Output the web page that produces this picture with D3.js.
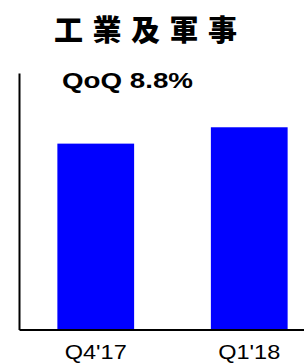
<!DOCTYPE html>
<meta charset="UTF-8">
<script src="https://d3js.org/d3.v7.min.js"></script>
<style>
  body { margin: 0; background: #fff; }
</style>
<svg id="chart" width="304" height="363"></svg>
<script>
// data
var quarters = ["Q4'17", "Q1'18"];
var revenue = [100, 108.8];   // index, Q4'17 = 100
var titleText = "工業及軍事";
var noteText = "QoQ 8.8%";

var svg = d3.select("#chart"),
  left = 19,
  baseY = 329.5,
  topY = 73;

var x = d3.scaleBand()
  .domain(quarters)
  .range([left, 326])
  .paddingInner(0.5)
  .paddingOuter(0.25);

var y = d3.scaleLinear()
  .domain([0, 138])
  .range([baseY, topY]);

// title
svg.append("text")
  .attr("x", 54)
  .attr("y", 41)
  .attr("textLength", 183)
  .attr("lengthAdjust", "spacing")
  .style("font-family", "'Noto Sans CJK TC'")
  .style("font-weight", 900)
  .style("font-size", "29px")
  .text(titleText);

// QoQ note
svg.append("text")
  .attr("x", 62)
  .attr("y", 88)
  .attr("textLength", 131)
  .attr("lengthAdjust", "spacingAndGlyphs")
  .style("font-family", "'Liberation Sans', Arial, sans-serif")
  .style("font-weight", "bold")
  .style("font-size", "22px")
  .text(noteText);

// bars
svg.append("g")
  .selectAll("rect")
  .data(revenue)
  .enter()
  .append("rect")
    .attr("x", function(d, i) { return x(quarters[i]); })
    .attr("y", function(d) { return y(d); })
    .attr("width", x.bandwidth())
    .attr("height", function(d) { return baseY - y(d); })
    .attr("fill", "#0000ff");

// y axis, line only
var yAxis = svg.append("g")
  .attr("transform", "translate(" + left + ",0)")
  .call(d3.axisLeft(y).tickValues([]).tickSizeOuter(0));
yAxis.select(".domain").attr("stroke", "#000").attr("stroke-width", 2);

// x axis
var xAxis = svg.append("g")
  .attr("transform", "translate(0," + baseY + ")")
  .call(d3.axisBottom(x).tickSize(0).tickSizeOuter(0).tickPadding(14.5));
xAxis.select(".domain").attr("stroke", "#000").attr("stroke-width", 2);
xAxis.selectAll("text")
  .attr("textLength", 62)
  .attr("lengthAdjust", "spacingAndGlyphs")
  .style("font-family", "'Liberation Sans', Arial, sans-serif")
  .style("font-size", "21px")
  .style("fill", "#000");
</script>
